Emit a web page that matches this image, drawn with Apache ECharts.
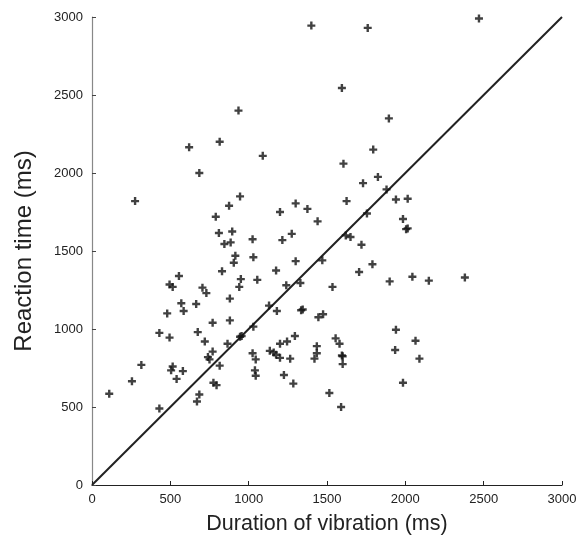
<!DOCTYPE html>
<html>
<head>
<meta charset="utf-8">
<script src="https://cdn.jsdelivr.net/npm/echarts@6/dist/echarts.min.js"></script>
<style>
html,body{margin:0;padding:0;background:#fff;}
#chart{width:583px;height:547px;}
</style>
</head>
<body>
<div id="chart"></div>
<script>
// Duration of vibration (ms)
const durations = [1400,2470,1760,935,1595,1895,620,815,1795,1090,1605,685,1825,1730,1880,275,945,1625,1940,2015,
  875,1300,1375,790,1200,1755,1440,1985,2005,2015,810,895,1275,1620,1650,845,885,1025,1215,1720,
  915,1030,905,1300,1470,1790,830,1175,1705,555,950,1055,1900,2045,2150,2380,495,515,705,730,
  940,1240,1330,1535,880,570,665,1130,585,480,1180,1335,1345,1445,1475,880,770,1030,1940,430,
  675,495,945,955,1295,1555,1580,2065,1245,1200,720,865,1435,1935,770,1025,1135,1160,1175,1435,
  1595,1600,740,750,1045,1200,1265,1420,2090,1600,315,815,515,505,580,1040,1045,1225,540,255,
  775,795,1285,1985,110,685,670,1515,430,1590];
// Reaction time (ms)
const reactions = [2945,2990,2930,2400,2545,2350,2165,2200,2150,2110,2060,2000,1975,1935,1895,1820,1850,1820,1830,1835,
  1790,1805,1770,1720,1750,1740,1690,1705,1640,1645,1615,1625,1610,1600,1590,1545,1555,1575,1570,1540,
  1470,1460,1425,1435,1440,1415,1370,1375,1365,1340,1320,1315,1305,1335,1310,1330,1285,1270,1265,1230,
  1270,1280,1295,1270,1195,1165,1160,1150,1115,1100,1115,1120,1125,1075,1095,1055,1040,1015,995,975,
  980,945,950,955,955,940,905,925,920,905,920,905,890,865,855,845,860,850,835,845,
  830,825,820,805,805,815,810,810,810,775,770,765,760,735,730,735,700,705,680,665,
  655,640,650,655,585,580,535,590,490,500];
const xTicks = [0,500,1000,1500,2000,2500,3000];
const yTicks = [0,500,1000,1500,2000,2500,3000];
const identityLine = [[0,0],[3000,3000]];

const points = durations.map((d,i)=>[d,reactions[i]]);
const chart = echarts.init(document.getElementById('chart'), null, {renderer:'canvas'});
const font = '"Liberation Sans", Arial, Helvetica, sans-serif';
const plain = v => String(v);
chart.setOption({
  animation:false,
  backgroundColor:'#fff',
  grid:{left:92,right:21,top:17,bottom:62,containLabel:false},
  xAxis:{
    type:'value',min:xTicks[0],max:xTicks[xTicks.length-1],interval:500,
    name:'Duration of vibration (ms)',nameLocation:'middle',nameGap:28,
    nameTextStyle:{fontFamily:font,fontSize:21.5,color:'#222'},
    axisLine:{lineStyle:{color:'#222',width:1.2}},
    axisTick:{inside:true,length:4,lineStyle:{color:'#222'}},
    axisLabel:{fontFamily:font,fontSize:13,color:'#222',margin:8,formatter:plain},
    splitLine:{show:false}
  },
  yAxis:{
    type:'value',min:yTicks[0],max:yTicks[yTicks.length-1],interval:500,
    name:'Reaction time (ms)',nameLocation:'middle',nameGap:56,
    nameTextStyle:{fontFamily:font,fontSize:24,color:'#222'},
    axisLine:{lineStyle:{color:'#888',width:1.2}},
    axisTick:{inside:true,length:4,lineStyle:{color:'#444'}},
    axisLabel:{fontFamily:font,fontSize:13,color:'#222',margin:9,formatter:plain},
    splitLine:{show:false}
  },
  series:[
    {type:'line',data:identityLine,symbol:'none',lineStyle:{color:'#222',width:2},z:1},
    {type:'scatter',data:points,symbol:'path://M2.8,0h2.4v2.8h2.8v2.4h-2.8v2.8h-2.4v-2.8h-2.8v-2.4h2.8z',symbolSize:8,
     itemStyle:{color:'#111'},z:2}
  ]
});
</script>
</body>
</html>
